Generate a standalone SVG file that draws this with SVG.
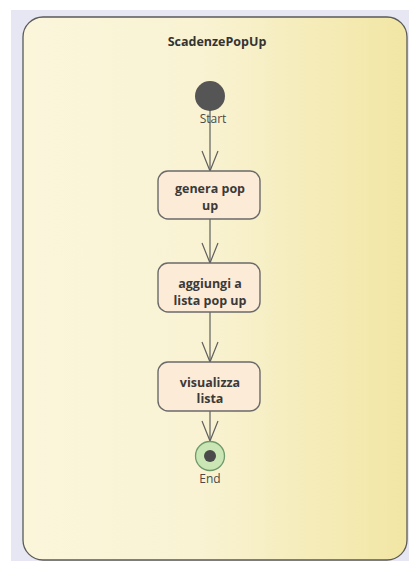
<svg xmlns="http://www.w3.org/2000/svg" width="409" height="561" viewBox="0 0 409 561">
  <defs>
    <linearGradient id="frameFill" x1="0" y1="0" x2="1" y2="0">
      <stop offset="0" stop-color="#fbf6db"/>
      <stop offset="0.45" stop-color="#f9f3d4"/>
      <stop offset="1" stop-color="#f2e6a4"/>
    </linearGradient>
    <marker id="openArrow" markerWidth="22" markerHeight="22" refX="21" refY="11" orient="auto" markerUnits="userSpaceOnUse" viewBox="0 0 22 22">
      <path d="M1,3 L21,11 L1,19" fill="none" stroke="#5f5f5f" stroke-width="1.2"/>
    </marker>
    <style>
      .frame { fill: url(#frameFill); stroke: #5a5a5a; stroke-width: 1.3; }
      .action { fill: #fcebd7; stroke: #6a6a6a; stroke-width: 1.4; }
      .label { font-family: "Open Sans", "Noto Sans", sans-serif; font-size: 12.5px; font-weight: bold; fill: #3a3a3a; text-anchor: middle; }
      .title { font-family: "Open Sans", "Noto Sans", sans-serif; font-size: 12.5px; font-weight: bold; fill: #333333; text-anchor: middle; }
      .caption { font-family: "Open Sans", "Noto Sans", sans-serif; font-size: 12px; fill: #4a4a4a; text-anchor: middle; }
      .flow { fill: none; stroke: #5f5f5f; stroke-width: 1.2; }
    </style>
  </defs>

  <rect x="0" y="0" width="409" height="561" fill="#ffffff"/>
  <rect x="11" y="10" width="398" height="551" fill="#e6e7f2"/>

  <g id="ScadenzePopUp">
    <rect class="frame" x="23" y="17" width="384" height="543" rx="20" ry="20"/>
    <text class="title" x="217" y="46">ScadenzePopUp</text>
  </g>

  <g id="connectors">
    <line class="flow" x1="210" y1="108" x2="210" y2="171" marker-end="url(#openArrow)"/>
    <line class="flow" x1="210" y1="219" x2="210" y2="263" marker-end="url(#openArrow)"/>
    <line class="flow" x1="210" y1="312" x2="210" y2="362" marker-end="url(#openArrow)"/>
    <line class="flow" x1="210" y1="411" x2="210" y2="441" marker-end="url(#openArrow)"/>
  </g>

  <g id="Start">
    <circle cx="210" cy="96" r="15" fill="#555555"/>
    <text class="caption" x="213" y="123">Start</text>
  </g>

  <g id="generaPopUp">
    <rect class="action" x="158" y="171" width="102" height="48" rx="10" ry="10"/>
    <text class="label" x="210" y="193">genera pop</text>
    <text class="label" x="210" y="210">up</text>
  </g>

  <g id="aggiungiListaPopUp">
    <rect class="action" x="158" y="263" width="102" height="49" rx="10" ry="10"/>
    <text class="label" x="210" y="288">aggiungi a</text>
    <text class="label" x="210" y="305">lista pop up</text>
  </g>

  <g id="visualizzaLista">
    <rect class="action" x="158" y="362" width="102" height="49" rx="10" ry="10"/>
    <text class="label" x="210" y="387">visualizza</text>
    <text class="label" x="210" y="403">lista</text>
  </g>

  <g id="End">
    <circle cx="210" cy="456" r="14.5" fill="#c9e6b4" stroke="#6f9a6a" stroke-width="1.3"/>
    <circle cx="210" cy="456" r="6" fill="#4a4a4a"/>
    <text class="caption" x="210" y="483">End</text>
  </g>
</svg>
